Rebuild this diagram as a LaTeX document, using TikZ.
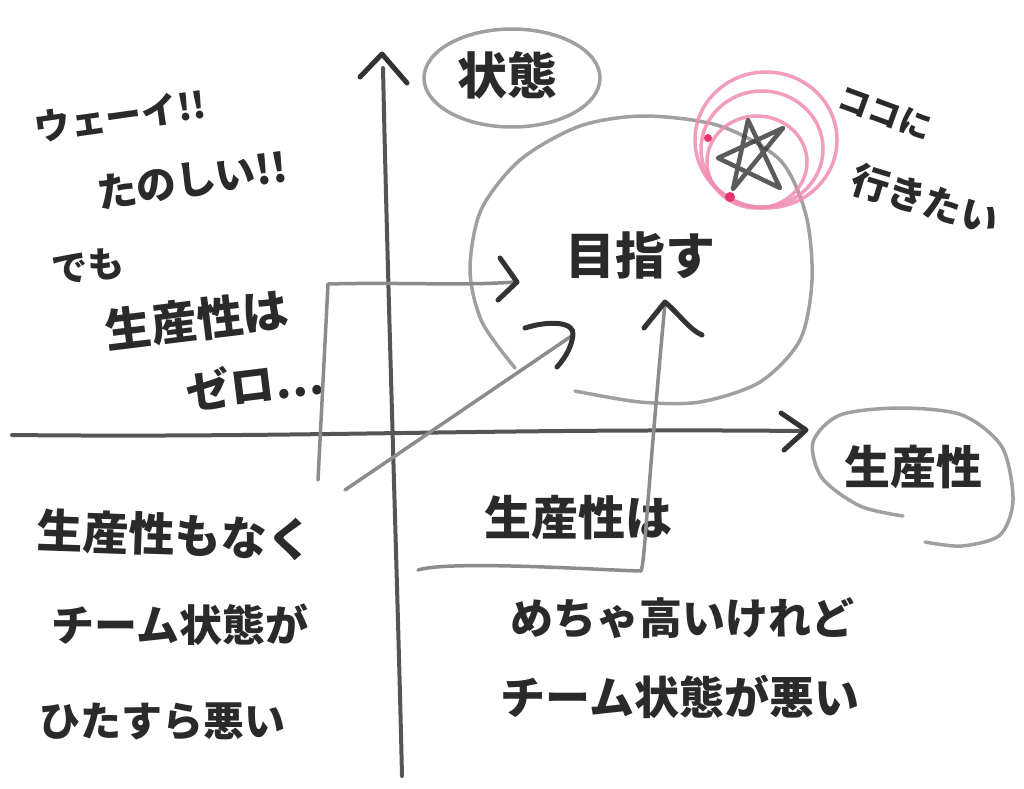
\documentclass[tikz,border=0pt]{standalone}
\usepackage{fontspec}
\newfontfamily\jp{Noto Sans CJK JP}
\definecolor{ink}{HTML}{2A2A2A}
\definecolor{axisc}{HTML}{555555}
\definecolor{guidec}{HTML}{A0A0A0}
\definecolor{arrowc}{HTML}{8C8C8C}
\definecolor{headc}{HTML}{333333}
\definecolor{pinkc}{HTML}{F08DB2}
\definecolor{pinkd}{HTML}{E8336F}
\tikzset{
  axisline/.style={line width=4pt, draw=axisc, line cap=round, line join=round},
  guide/.style={line width=3.5pt, draw=guidec, line cap=round, line join=round},
  flow/.style={line width=3.5pt, draw=arrowc, line cap=round, line join=round},
  tip/.style={line width=5pt, draw=headc, line cap=round, line join=round},
  halo/.style={line width=3.5pt, draw=pinkc, opacity=0.85},
  txt/.style={inner sep=0pt, text=ink, font=\jp\bfseries},
}
\newcommand{\fs}[1]{\fontsize{#1}{#1}\selectfont}
\begin{document}
\begin{tikzpicture}[x=1pt,y=-1pt]
\useasboundingbox (0,0) rectangle (1024,788);
\fill[white] (0,0) rectangle (1024,788);

% axes
\coordinate (vb) at (402,776);
\coordinate (vt) at (383,68);
\coordinate (hl) at (12,435);
\coordinate (hr) at (800,431);
\draw[axisline] (vb) .. controls (398,600) and (388,300) .. (vt);
\draw[tip] (360,77) -- (382,54) -- (407,83);
\draw[axisline] (hl) .. controls (300,438) and (500,428) .. (hr);
\draw[tip] (781,413) -- (806,430) -- (784,450);

% ellipses around axis labels
\node[txt, font=\jp\bfseries\fs{50}] (st) at (507,75) {状態};
\draw[guide] (512,78) ellipse [x radius=88, y radius=49];
\node[txt, font=\jp\bfseries\fs{46}] (sp) at (913,467) {生産性};
\draw[guide] plot[smooth] coordinates {(903,516) (860,506) (822,478) (813,442) (840,415) (900,408) (962,415) (1002,447) (1013,500) (1000,535) (962,546) (925,542)};

% goal region
\draw[guide] plot[smooth] coordinates {(515,368) (482,322) (470,270) (481,210) (520,160) (580,126) (645,116) (720,126) (780,160) (806,215) (812,280) (800,340) (760,382) (700,402) (640,402) (575,391)};
\node[txt, font=\jp\bfseries\fs{50}] (goal) at (640,255) {目指す};

% star with pink circles
\draw[halo] (766,140) ellipse [x radius=71, y radius=68];
\draw[halo] (762,149) ellipse [x radius=61, y radius=58];
\draw[halo] (757,162) ellipse [x radius=50, y radius=46];
\fill[pinkd] (708,138) circle (4);
\fill[pinkd] (730,197) circle (5);
\coordinate (s1) at (748,120);
\coordinate (s2) at (780,188);
\coordinate (s3) at (718,158);
\coordinate (s4) at (783,128);
\coordinate (s5) at (733,189);
\draw[line width=4.5pt, draw=headc, line cap=round, line join=round, opacity=0.8] (s5) -- (s1) -- (s2) -- (s3) -- (s4) -- cycle;

% quadrant texts
\node[txt, font=\jp\bfseries\fs{36}, rotate=8] (w1) at (120,116) {ウェーイ!!};
\node[txt, font=\jp\bfseries\fs{40}, rotate=8] (w2) at (192,180) {たのしい!!};
\node[txt, font=\jp\bfseries\fs{36}, rotate=6] (w3) at (88,266) {でも};
\node[txt, font=\jp\bfseries\fs{46}, rotate=7] (w4) at (197,320) {生産性は};
\node[txt, font=\jp\bfseries\fs{44}, rotate=7] (w5) at (255,384) {ゼロ…};

\node[txt, font=\jp\bfseries\fs{46}, rotate=-2] (q3a) at (175,535) {生産性もなく};
\node[txt, font=\jp\bfseries\fs{43}] (q3b) at (180,625) {チーム状態が};
\node[txt, font=\jp\bfseries\fs{41}] (q3c) at (162,722) {ひたすら悪い};

\node[txt, font=\jp\bfseries\fs{47}] (q4a) at (578,518) {生産性は};
\node[txt, font=\jp\bfseries\fs{43}] (q4b) at (682,618) {めちゃ高いけれど};
\node[txt, font=\jp\bfseries\fs{45}] (q4c) at (680,697) {チーム状態が悪い};

\node[txt, font=\jp\bfseries\fs{32}, rotate=-20] (c1) at (885,113) {ココに};
\node[txt, font=\jp\bfseries\fs{38}, rotate=-17] (c2) at (925,200) {行きたい};

% arrows toward the goal
\coordinate (a1s) at (318,480);
\coordinate (a1c) at (328,284);
\coordinate (a1e) at (515,282);
\draw[flow] (a1s) -- (a1c) .. controls (400,282) and (460,286) .. (a1e);
\draw[tip] (500,258) -- (517,282) -- (498,300);

\coordinate (a2s) at (345,490);
\coordinate (a2e) at (573,335);
\draw[flow] (a2s) -- (a2e);
\draw[tip] (525,328) .. controls (550,320) and (575,322) .. (573,335) .. controls (571,350) and (563,360) .. (557,367);

\coordinate (a3s) at (418,570);
\coordinate (a3c) at (641,571);
\coordinate (a3e) at (665,303);
\draw[flow] (a3s) .. controls (450,560) and (600,570) .. (a3c) .. controls (645,560) and (645,520) .. (a3e);
\draw[tip] (644,328) -- (665,302) .. controls (680,315) and (690,330) .. (702,335);
\end{tikzpicture}
\end{document}
